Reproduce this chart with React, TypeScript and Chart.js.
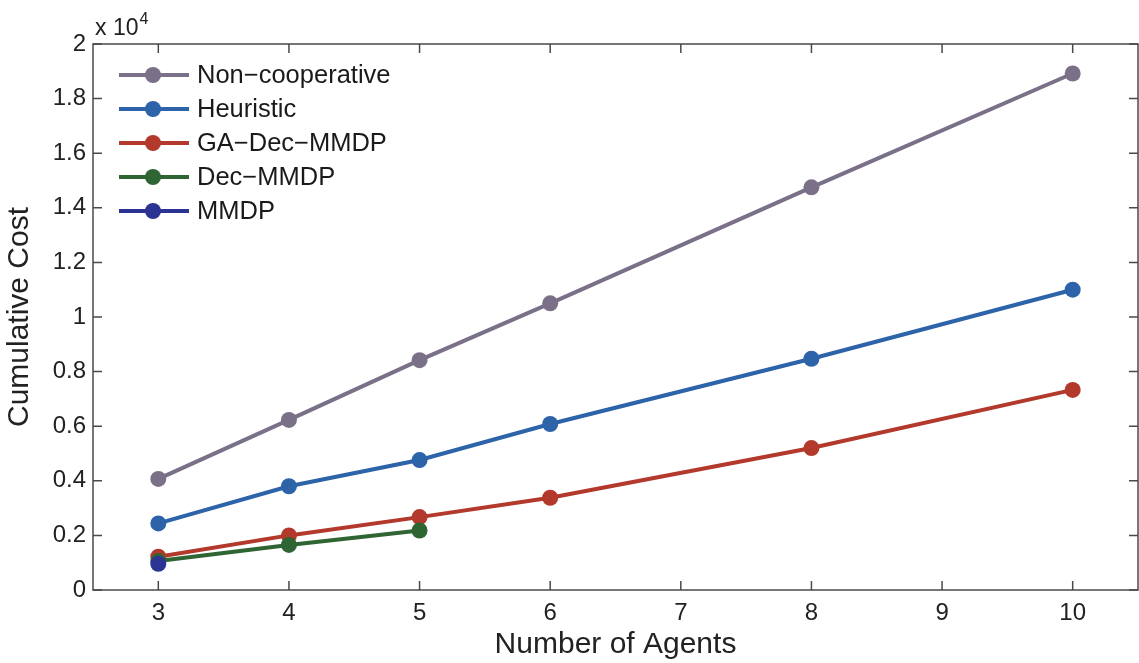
import React, { useEffect, useRef } from "react";
import { Chart, registerables } from "chart.js";

Chart.register(...registerables);

const agents = [3, 4, 5, 6, 8, 10];
const xTicks = [3, 4, 5, 6, 7, 8, 9, 10];
const yTicks = [0, 2000, 4000, 6000, 8000, 10000, 12000, 14000, 16000, 18000, 20000];

const nonCooperative = [4070, 6230, 8420, 10500, 14750, 18920];
const heuristic = [2440, 3800, 4760, 6080, 8470, 11000];
const gaDecMmdp = [1220, 2000, 2670, 3380, 5200, 7330];
const decMmdp = [1060, 1650, 2180];
const mmdp = [960];

const seriesNames = ["Non\u2212cooperative", "Heuristic", "GA\u2212Dec\u2212MMDP", "Dec\u2212MMDP", "MMDP"];
const seriesColors = ["#7a7189", "#2c63a9", "#b2392b", "#2f6532", "#2b3492"];
const seriesValues = [nonCooperative, heuristic, gaDecMmdp, decMmdp, mmdp];

const FONT = "'Liberation Sans', Arial, Helvetica, sans-serif";

const boxPlugin = {
  id: "matlabBox",
  afterDraw(chart: any) {
    const { ctx, chartArea } = chart;
    const { left, right, top, bottom } = chartArea;
    const xs = chart.scales.x;
    const ys = chart.scales.y;
    ctx.save();
    ctx.strokeStyle = "#4a4a4a";
    ctx.lineWidth = 1.5;
    ctx.strokeRect(left, top, right - left, bottom - top);
    const tl = 9;
    ctx.beginPath();
    for (const v of xTicks) {
      const px = xs.getPixelForValue(v);
      ctx.moveTo(px, bottom);
      ctx.lineTo(px, bottom - tl);
      ctx.moveTo(px, top);
      ctx.lineTo(px, top + tl);
    }
    for (const v of yTicks) {
      const py = ys.getPixelForValue(v);
      ctx.moveTo(left, py);
      ctx.lineTo(left + tl, py);
      ctx.moveTo(right, py);
      ctx.lineTo(right - tl, py);
    }
    ctx.stroke();

    // exponent label
    ctx.fillStyle = "#222";
    ctx.textBaseline = "alphabetic";
    ctx.textAlign = "left";
    ctx.font = `23px ${FONT}`;
    ctx.fillText("x 10", 95, 35);
    const w = ctx.measureText("x 10").width;
    ctx.font = `16px ${FONT}`;
    ctx.fillText("4", 95 + w + 1, 24);

    // legend
    const rowY0 = 75;
    const rowStep = 34;
    chart.data.datasets.forEach((ds: any, i: number) => {
      const y = rowY0 + i * rowStep;
      ctx.strokeStyle = ds.borderColor;
      ctx.lineWidth = 4;
      ctx.beginPath();
      ctx.moveTo(119, y);
      ctx.lineTo(189, y);
      ctx.stroke();
      ctx.fillStyle = ds.backgroundColor;
      ctx.beginPath();
      ctx.arc(153, y, 8, 0, Math.PI * 2);
      ctx.fill();
      ctx.fillStyle = "#1a1a1a";
      ctx.font = `25.5px ${FONT}`;
      ctx.textBaseline = "middle";
      ctx.textAlign = "left";
      ctx.fillText(ds.label, 197, y + 1);
    });
    ctx.restore();
  },
};

export default function App() {
  const ref = useRef<HTMLCanvasElement | null>(null);
  useEffect(() => {
    if (!ref.current) return;
    const datasets = seriesNames.map((name, i) => ({
      label: name,
      data: seriesValues[i].map((v, j) => ({ x: agents[j], y: v })),
      borderColor: seriesColors[i],
      backgroundColor: seriesColors[i],
      pointBackgroundColor: seriesColors[i],
      pointBorderColor: seriesColors[i],
      borderWidth: 4,
      pointRadius: 8,
      pointBorderWidth: 0,
      tension: 0,
      order: seriesNames.length - i,
    }));
    const chart = new Chart(ref.current, {
      type: "line",
      data: { datasets },
      options: {
        animation: false,
        responsive: false,
        devicePixelRatio: 1,
        layout: { autoPadding: false, padding: { top: 44, right: 1, left: 0, bottom: 0 } },
        plugins: { legend: { display: false }, tooltip: { enabled: false } },
        scales: {
          x: {
            type: "linear",
            min: 2.5,
            max: 10.5,
            afterBuildTicks: (s: any) => {
              s.ticks = xTicks.map((v) => ({ value: v }));
            },
            afterFit: (s: any) => {
              s.height = 73;
              s.paddingLeft = 0;
              s.paddingRight = 0;
            },
            grid: { display: false, drawTicks: false },
            border: { display: false },
            ticks: {
              color: "#222",
              font: { family: FONT, size: 24 },
              padding: 9,
              maxRotation: 0,
            },
            title: {
              display: true,
              text: "Number of Agents",
              color: "#222",
              font: { family: FONT, size: 30 },
              padding: { top: 0, bottom: 0 },
            },
          },
          y: {
            type: "linear",
            min: 0,
            max: 20000,
            afterBuildTicks: (s: any) => {
              s.ticks = yTicks.map((v) => ({ value: v }));
            },
            afterFit: (s: any) => {
              s.width = 93;
              s.paddingTop = 0;
              s.paddingBottom = 0;
            },
            grid: { display: false, drawTicks: false },
            border: { display: false },
            ticks: {
              color: "#222",
              font: { family: FONT, size: 24 },
              padding: 7,
              callback: (v: any) => String(parseFloat((Number(v) / 10000).toFixed(1))),
            },
            title: {
              display: true,
              text: "Cumulative Cost",
              color: "#222",
              font: { family: FONT, size: 30 },
              padding: { top: 2, bottom: 0 },
            },
          },
        },
      },
      plugins: [boxPlugin],
    });
    return () => chart.destroy();
  }, []);
  return (
    <div style={{ position: "fixed", left: 0, top: 0, width: 1139, height: 663, background: "#fff" }}>
      <canvas ref={ref} width={1139} height={663} style={{ display: "block" }} />
    </div>
  );
}
